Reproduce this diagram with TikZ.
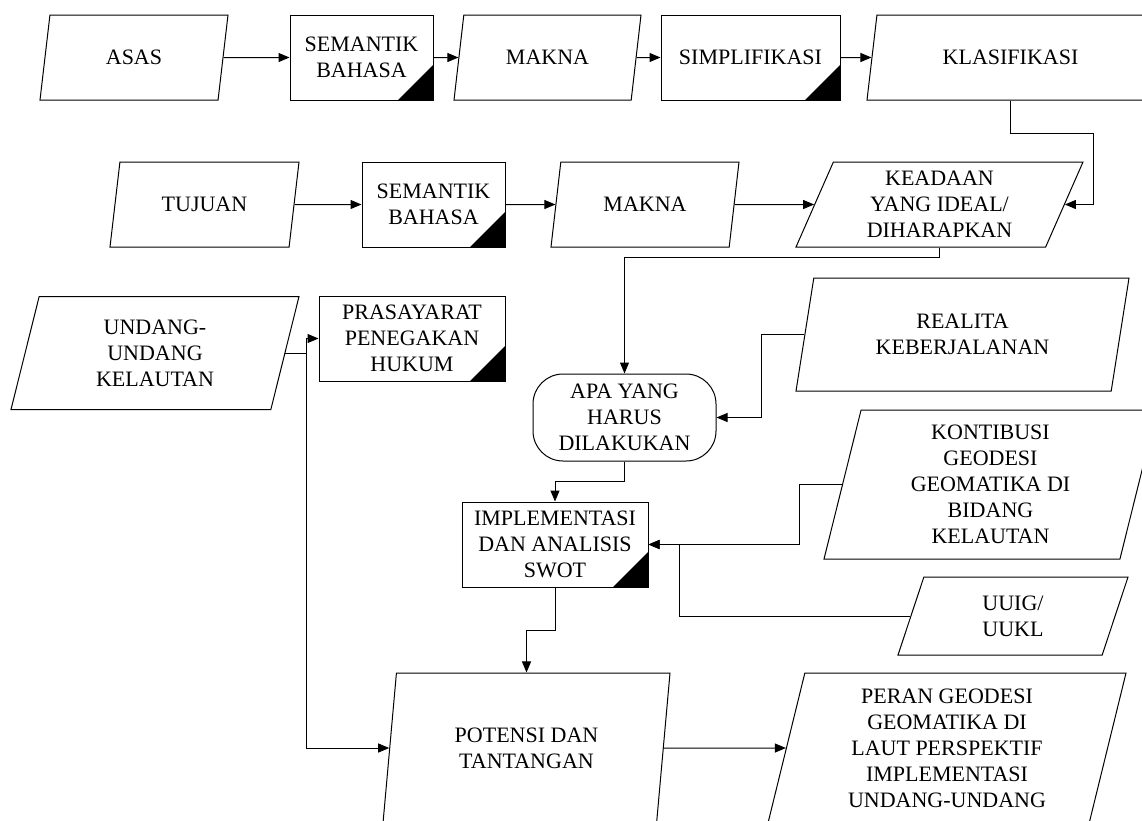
\documentclass[tikz,border=0pt]{standalone}
\usepackage{fontspec}
\setmainfont{Liberation Serif}
\usetikzlibrary{shapes.geometric,arrows.meta}

\tikzset{
  base/.style={draw, line width=1pt, align=center, inner sep=2pt,
    font=\fontsize{22}{26}\selectfont},
  proc/.style={base, rectangle,
    path picture={\fill[black] ([xshift=-35pt]path picture bounding box.south east)
      -- (path picture bounding box.south east)
      -- ([yshift=35pt]path picture bounding box.south east) -- cycle;}},
  term/.style={base, rectangle, rounded corners=30pt},
  io/.style={base, trapezium, trapezium stretches body},
  io78/.style={io, minimum height=78pt, trapezium left angle=60.0, trapezium right angle=120.0},
  io85/.style={io, minimum height=85pt, trapezium left angle=62.1, trapezium right angle=117.9},
  io113/.style={io, minimum height=113pt, trapezium left angle=68.3, trapezium right angle=111.7},
  io149/.style={io, minimum height=149pt, trapezium left angle=73.2, trapezium right angle=106.8},
  io150/.style={io, minimum height=150pt, trapezium left angle=73.3, trapezium right angle=106.7}
}

\begin{document}
\begin{tikzpicture}[x=1pt, y=-1pt, line width=1pt, >={Triangle[length=11pt,width=9pt]}]
  \useasboundingbox (0,0) rectangle (1142,820);
  \clip (0,0) rectangle (1142,820);

  % first row
  \node[io85, minimum width=188pt](asas) at (134,57.5) {ASAS};
  \node[proc, minimum width=143pt, minimum height=85pt](sem1) at (361.5,57.5) {SEMANTIK\\BAHASA};
  \node[io85, minimum width=187pt](makna1) at (547.5,57.5) {MAKNA};
  \node[proc, minimum width=179pt, minimum height=85pt](simpl) at (750.5,57.5) {SIMPLIFIKASI};
  \node[io85, minimum width=287pt](klas) at (1010.5,57.5) {KLASIFIKASI};

  % second row
  \node[io85, minimum width=189pt](tujuan) at (204.5,204.5) {TUJUAN};
  \node[proc, minimum width=143pt, minimum height=85pt](sem2) at (433.5,204.5) {SEMANTIK\\BAHASA};
  \node[io85, minimum width=188pt](makna2) at (645,204.5) {MAKNA};
  \node[io85, minimum width=287pt](keadaan) at (939.5,204.5) {KEADAAN\\YANG IDEAL/\\DIHARAPKAN};

  % lower part
  \node[io113, minimum width=288pt](undang) at (155,353) {UNDANG-\\UNDANG\\KELAUTAN};
  \node[proc, minimum width=186pt, minimum height=85pt](pras) at (412,338.5) {PRASAYARAT\\PENEGAKAN\\HUKUM};
  \node[term, minimum width=183pt, minimum height=87pt](apa) at (624.5,417.5) {APA YANG\\HARUS\\DILAKUKAN};
  \node[io113, minimum width=333pt](realita) at (962.5,334.5) {REALITA\\KEBERJALANAN};
  \node[io149, minimum width=333pt](kont) at (990.5,484.5) {KONTIBUSI\\GEODESI\\GEOMATIKA DI\\BIDANG\\KELAUTAN};
  \node[proc, minimum width=186pt, minimum height=85pt](impl) at (555,544.5) {IMPLEMENTASI\\DAN ANALISIS\\SWOT};
  \node[io78, minimum width=230pt](uuig) at (1013,616) {UUIG/\\UUKL};
  \node[io150, minimum width=287pt](potensi) at (526.5,748) {POTENSI DAN\\TANTANGAN};
  \node[io150, minimum width=358pt](peran) at (947,748) {PERAN GEODESI\\GEOMATIKA DI\\LAUT PERSPEKTIF\\IMPLEMENTASI\\UNDANG-UNDANG};

  \draw[->] (asas) -- (sem1);
  \draw[->] (sem1) -- (makna1);
  \draw[->] (makna1) -- (simpl);
  \draw[->] (simpl) -- (klas);
  \draw[->] (klas.south) -- ++(0,33) -| ([xshift=29pt]keadaan.east) -- (keadaan.east);
  \draw[->] (tujuan) -- (sem2);
  \draw[->] (sem2) -- (makna2);
  \draw[->] (makna2) -- (keadaan);
  \draw[->] (keadaan.south) -- ++(0,10) -| (apa.north);
  \draw[->] (undang.east) -- ++(21,0) coordinate (split) |- (pras.west);
  \draw[->] (split) |- (potensi.west);
  \draw[->] (realita.west) -- ++(-43,0) |- (apa.east);
  \draw[->] (apa.south) -- ++(0,20) -| (impl.north);
  \draw[->] (kont.west) -- ++(-42.5,0) |- (impl.east);
  \draw[->] (uuig.west) -- ++(-230.5,0) |- (impl.east);
  \draw[->] (impl.south) -- ++(0,43) -| (potensi.north);
  \draw[->] (potensi) -- (peran);
\end{tikzpicture}
\end{document}
